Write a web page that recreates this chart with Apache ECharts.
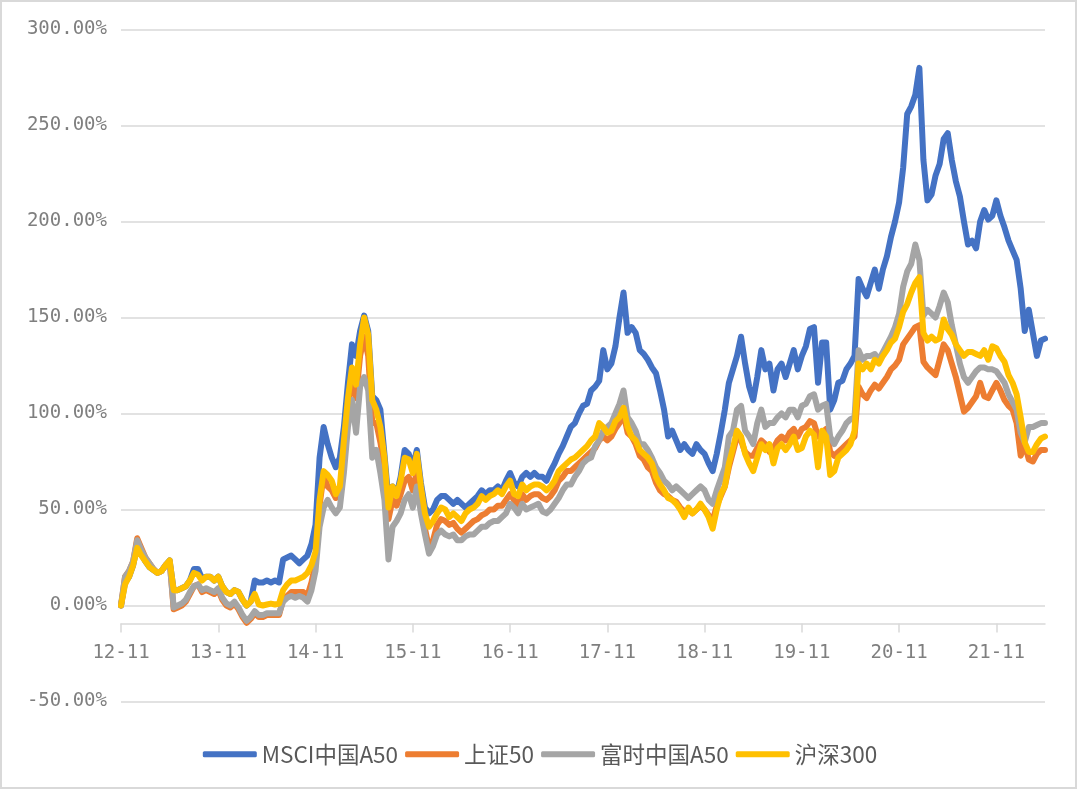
<!DOCTYPE html>
<html>
<head>
<meta charset="utf-8">
<script src="https://cdn.jsdelivr.net/npm/echarts@6/dist/echarts.min.js"></script>
<style>
  html, body { margin: 0; padding: 0; background: #fff; }
  #chart { width: 1080px; height: 791px; }
</style>
</head>
<body>
<div id="chart"></div>
<script>
// Semi-monthly observation dates from 2012-11 to 2022-05 (1st and 16th of each month)
const startYear = 2012, startMonth = 11, pointCount = 229;
const dates = [];
for (let k = 0; k < pointCount; k++) {
  const m = (startMonth - 1) + Math.floor(k / 2);
  const y = startYear + Math.floor(m / 12);
  const mm = String(m % 12 + 1).padStart(2, '0');
  dates.push(y + '-' + mm + '-' + (k % 2 ? '16' : '01'));
}

const xTickLabels = ['12-11','13-11','14-11','15-11','16-11','17-11','18-11','19-11','20-11','21-11'];
const seriesNames = ['MSCI中国A50', '上证50', '富时中国A50', '沪深300'];

// Cumulative returns (%)
const msciA50 = [
  0,12,15,21,31,27,23,20,18.5,17,18,21,
  23.5,8,8,9,10,13,19,19,14,15,15,13,
  15,10,7,6,8,7,3,0,2,13,12,12,
  13,12,13,12,24,25,26,24,22,24,26,32,
  42,77,93,84,77,72,77,93,116,136,130,143,
  151,143,109,107,102,79,55,62,58,67,81,79,
  72,81,64,51,48,50,55,57,57,55,53,55,
  53,51,53,55,57,60,58,60,60,62,60,65,
  69,64,62,67,69,67,69,67,67,65,70,74,
  79,83,88,93,95,100,104,105,112,114,117,133,
  123,126,135,150,163,142,145,142,133,131,128,124,
  121,112,102,88,91,86,81,84,81,79,84,81,
  79,74,70,79,90,102,116,123,130,140,126,114,
  107,119,133,123,126,112,123,126,119,126,133,123,
  130,135,144,145,116,137,137,102,107,116,117,123,
  126,130,170,165,161,168,175,165,175,182,192,200,
  210,228,256,260,266,280,232,211,214,224,230,243,
  246,232,221,213,200,188,190,186,200,206,201,203,
  211,203,197,190,185,180,165,143,154,142,130,138,
  139
];
const sz50 = [
  0,15,18,23,35,30,25,22,19,17,18,21,
  23,-2,-1,0,2,6,10,11,7,8,7,6,
  8,3,0,-1,1,-2,-6,-9,-7,-4,-6,-6,
  -5,-5,-5,-5,3,5,7,7,7,7,5,12,
  22,52,68,62,60,56,58,80,104,118,108,130,
  140,130,95,95,85,72,45,55,52,58,65,67,
  60,70,55,40,30,34,42,45,44,42,43,40,
  38,40,42,44,45,47,48,50,50,52,52,55,
  58,55,52,58,55,57,58,58,56,55,57,60,
  65,67,70,70,72,74,76,78,80,82,86,88,
  86,88,92,95,100,90,88,84,78,76,72,70,
  64,60,58,57,55,54,51,49,50,48,50,52,
  50,47,44,52,57,62,72,80,88,86,80,78,
  78,82,86,84,80,82,86,88,86,90,92,88,
  92,93,96,95,88,90,92,80,78,80,82,84,
  86,88,114,110,108,112,115,113,116,119,123,125,
  128,136,139,142,145,146,127,124,122,120,128,136,
  133,126,119,110,101,103,106,109,116,109,108,112,
  116,112,107,104,102,95,78,84,76,75,79,81,
  81
];
const ftseA50 = [
  0,15,18,23,34,29,25,22,19,17,18,21,
  23,-1,0,1,3,7,10,11,8,9,8,7,
  9,4,1,0,2,-1,-5,-8,-6,-3,-5,-5,
  -4,-4,-4,-4,2,4,5,4,5,4,2,8,
  18,41,51,55,51,48,51,69,93,107,90,114,
  119,112,77,81,69,55,24,41,44,48,55,58,
  51,62,48,37,27,31,37,39,37,36,37,34,
  34,36,37,37,39,41,41,43,44,44,46,48,
  53,51,48,53,50,51,52,53,49,48,50,53,
  56,60,63,63,67,70,74,76,77,83,86,91,
  93,95,100,105,112,98,95,91,84,84,81,77,
  72,69,65,63,60,62,60,58,56,58,60,62,
  60,55,53,60,66,72,88,91,102,104,91,88,
  84,95,102,93,95,95,98,100,98,102,102,98,
  104,105,109,110,102,104,105,88,84,88,91,95,
  97,98,133,128,130,130,131,128,132,136,140,145,
  152,166,174,178,188,180,151,154,152,150,156,163,
  158,146,136,126,119,116,119,122,124,124,123,123,
  122,119,116,110,106,102,90,85,93,93,94,95,
  95
];
const hs300 = [
  0,11,15,21,30,26,23,20,18.5,17,18,21,
  23.5,8,8,9,10,13,17,16,13,15,15,13,
  15,10,7,6,8,7,3,0,2,6,0.5,0,
  0.5,1,0.5,1,8,11,13,13,14,15,17,21,
  28,55,70,68,65,58,62,86,108,124,115,136,
  150,141,107,102,93,77,51,62,57,65,77,76,
  69,79,62,48,41,44,48,51,50,46,48,46,
  44,48,50,51,53,57,55,57,58,60,58,62,
  65,58,57,63,60,62,63,63,62,60,62,65,
  70,72,74,76,77,79,81,83,86,88,95,93,
  90,91,96,98,103,93,88,86,81,79,77,74,
  67,63,60,56,55,53,50,46,51,48,50,53,
  50,46,40,50,58,62,74,82,91,88,79,74,
  70,77,84,81,84,74,82,84,81,84,88,81,
  82,88,91,89,72,91,88,68,70,77,79,81,
  84,91,126,123,126,123,128,126,130,133,137,139,
  145,153,157,163,168,171,142,138,140,138,139,149,
  144,141,136,133,130,132,132,131,130,133,128,135,
  134,130,127,120,116,110,98,85,80,80,84,87,
  88
];

const yMin = -50, yMax = 300, yStep = 50;
const colors = ['#4472C4', '#ED7D31', '#A5A5A5', '#FFC000'];
const seriesData = [msciA50, sz50, ftseA50, hs300];

const isYearTick = (idx) => idx % 24 === 0;
const chart = echarts.init(document.getElementById('chart'), null, { renderer: 'canvas' });
const labelFont = 'DejaVu Sans Mono';

chart.setOption({
  animation: false,
  backgroundColor: '#ffffff',
  graphic: [{
    type: 'rect', silent: true, z: -10,
    shape: { x: 1, y: 1, width: 1075, height: 787 },
    style: { fill: 'none', stroke: '#d9d9d9', lineWidth: 2 }
  }],
  grid: [
    { left: 121, right: 35, top: 29.5, bottom: 89.5, containLabel: false },
    // grid carrying the category axis, whose bottom edge is where the axis crosses (about -9.4%)
    { left: 121, right: 35, top: 29.5, bottom: 167.5, containLabel: false }
  ],
  legend: {
    data: seriesNames,
    left: 'center',
    top: 738,
    icon: 'roundRect',
    itemWidth: 54,
    itemHeight: 6,
    itemGap: 7,
    textStyle: { fontFamily: 'Noto Sans CJK SC', fontSize: 22.5, color: '#595959' }
  },
  xAxis: [{
    type: 'category',
    gridIndex: 0,
    data: dates,
    boundaryGap: false,
    show: false
  }, {
    type: 'category',
    gridIndex: 1,
    data: dates,
    boundaryGap: false,
    axisLine: { show: true, onZero: false, lineStyle: { color: '#d9d9d9', width: 1.5 } },
    axisTick: { show: true, length: 9, interval: (idx) => isYearTick(idx), lineStyle: { color: '#d9d9d9', width: 1.5 } },
    axisLabel: {
      interval: (idx) => isYearTick(idx),
      formatter: (val, idx) => xTickLabels[idx / 24] || '',
      margin: 20,
      fontFamily: labelFont, fontSize: 19, color: '#7f7f7f'
    },
    splitLine: { show: false }
  }],
  yAxis: [{
    type: 'value',
    gridIndex: 0,
    min: yMin, max: yMax, interval: yStep,
    axisLine: { show: false },
    axisTick: { show: false },
    axisLabel: {
      formatter: (v) => v.toFixed(2) + '%',
      margin: 14,
      fontFamily: labelFont, fontSize: 19, color: '#7f7f7f'
    },
    splitLine: { lineStyle: { color: '#d9d9d9', width: 1.5 } }
  }, {
    type: 'value',
    gridIndex: 1,
    show: false,
    min: 0, max: 1,
    splitLine: { show: false }
  }],
  series: seriesNames.map((name, i) => ({
    name: name,
    type: 'line',
    data: seriesData[i],
    xAxisIndex: 0,
    yAxisIndex: 0,
    showSymbol: false,
    symbol: 'none',
    color: colors[i],
    lineStyle: { width: 6, color: colors[i], cap: 'round', join: 'round' },
    emphasis: { disabled: true }
  }))
});
</script>
</body>
</html>
